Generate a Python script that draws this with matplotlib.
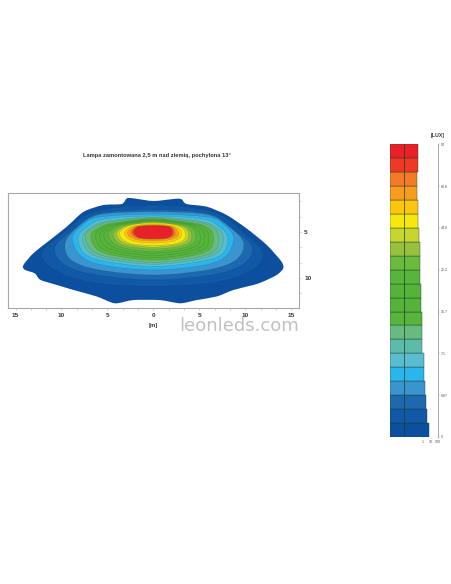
import matplotlib
matplotlib.use("Agg")
import matplotlib.pyplot as plt
import numpy as np
from matplotlib.path import Path
from matplotlib.patches import PathPatch

W, H = 452, 584
plt.rcParams['font.family'] = ['Liberation Sans', 'DejaVu Sans']

title = "Lampa zamontowana 2,5 m nad ziemią, pochylona 13°"
watermark = "leonleds.com"
x_tick_labels = ["15", "10", "5", "0", "5", "10", "15"]
x_tick_values = [-15, -10, -5, 0, 5, 10, 15]
y_tick_values = [5, 10]

# iso-lux contours, outermost first (metres)
outer_x = [-2.9, -2.2, 0, 2.5, 3.06, 3.6, 5.8, 7.95, 10.1, 12.3, 13.9, 14.1, 13.4, 11.9, 10.85, 8.7, 6.9, 4.7, 2.9,
           0.7, -2.2, -4.2, -6.2, -8.7, -10.5, -12.3, -12.9, -14, -14.15, -13.05, -11.25, -9.4, -7.6, -5.45, -3.46]
outer_y = [1.34, 1.34, 1.63, 1.38, 1.45, 1.96, 2.25, 3.15, 4.6, 6.4, 8.2, 8.95, 9.67, 10.4, 10.76, 11.3, 12.0, 12.4, 12.75,
           12.4, 12.4, 12.75, 12.0, 11.3, 10.76, 10.2, 9.5, 9.1, 8.6, 7.3, 5.87, 4.4, 2.8, 2.07, 1.96]
# each inner level, clockwise from the top
inner_x = [
    [0, 6.5, 9.7, 11.9, 10.6, 6.6, 0, -6.6, -10.6, -12.15, -9.7, -6.5],
    [0, 6.0, 8.8, 10.7, 9.9, 6.6, 0, -6.6, -9.9, -10.7, -8.8, -6.0],
    [0, 5.8, 8.3, 9.8, 9.0, 6.0, 0, -6.0, -9.0, -9.6, -8.3, -5.8],
    [0, 6.0, 7.9, 8.7, 7.9, 5.5, 0, -5.5, -7.9, -8.85, -7.9, -6.0],
    [0, 5.4, 7.2, 8.05, 7.5, 5.1, 0, -5.1, -7.5, -8.2, -7.2, -5.4],
    [0, 4.9, 6.7, 7.6, 7.05, 4.8, 0, -4.8, -7.05, -7.7, -6.7, -4.9],
    [0, 4.6, 6.3, 7.05, 6.7, 4.5, 0, -4.5, -6.7, -7.4, -6.3, -4.6],
    [0, 4.2, 5.8, 6.5, 6.15, 4.1, 0, -4.1, -6.15, -6.8, -5.8, -4.2],
    [0, 3.9, 5.35, 6.0, 5.7, 3.8, 0, -3.8, -5.7, -6.3, -5.35, -3.9],
    [0, 3.6, 5.0, 5.5, 5.3, 3.5, 0, -3.5, -5.3, -5.85, -5.0, -3.6],
    [0, 3.3, 4.5, 5.05, 4.85, 3.2, 0, -3.2, -4.85, -5.4, -4.5, -3.3],
    [0, 3.0, 4.1, 4.6, 4.4, 2.95, 0, -2.95, -4.4, -4.9, -4.1, -3.0],
    [0, 2.7, 3.7, 4.15, 3.95, 2.65, 0, -2.65, -3.95, -4.37, -3.7, -2.7],
    [0, 2.45, 3.4, 3.8, 3.6, 2.4, 0, -2.4, -3.6, -4.0, -3.4, -2.45],
    [0, 2.2, 3.1, 3.45, 3.3, 2.2, 0, -2.2, -3.3, -3.72, -3.1, -2.2],
    [0, 1.95, 2.7, 3.06, 2.85, 1.9, 0, -1.9, -2.85, -3.17, -2.7, -1.95],
    [0, 1.75, 2.4, 2.7, 2.55, 1.7, 0, -1.7, -2.55, -2.84, -2.4, -1.75],
    [0, 1.6, 2.15, 2.34, 2.25, 1.5, 0, -1.5, -2.25, -2.48, -2.15, -1.6],
    [0, 1.5, 2.0, 2.15, 2.05, 1.45, 0, -1.45, -2.05, -2.26, -2.0, -1.5],
    [0, 1.4, 1.85, 1.97, 1.85, 1.35, 0, -1.35, -1.85, -2.05, -1.85, -1.4],
]
inner_y = [
    [2.07, 2.8, 5.0, 7.3, 9.2, 10.5, 10.9, 10.5, 9.2, 7.3, 5.0, 2.8],
    [2.6, 3.0, 4.8, 6.6, 8.4, 9.6, 10.2, 9.6, 8.4, 6.6, 4.8, 3.0],
    [2.8, 3.1, 4.5, 6.2, 8.0, 9.1, 9.67, 9.1, 8.0, 6.2, 4.5, 3.1],
    [3.05, 3.4, 4.4, 5.7, 7.6, 8.6, 9.13, 8.6, 7.6, 5.7, 4.4, 3.4],
    [3.26, 3.6, 4.45, 5.6, 7.35, 8.2, 8.75, 8.2, 7.35, 5.6, 4.45, 3.6],
    [3.4, 3.8, 4.45, 5.5, 7.15, 8.0, 8.5, 8.0, 7.15, 5.5, 4.45, 3.8],
    [3.45, 3.9, 4.4, 5.4, 7.0, 7.8, 8.3, 7.8, 7.0, 5.4, 4.4, 3.9],
    [3.55, 4.0, 4.45, 5.35, 6.85, 7.6, 8.05, 7.6, 6.85, 5.35, 4.45, 4.0],
    [3.62, 4.05, 4.45, 5.3, 6.7, 7.4, 7.8, 7.4, 6.7, 5.3, 4.45, 4.05],
    [3.7, 4.1, 4.5, 5.3, 6.5, 7.2, 7.55, 7.2, 6.5, 5.3, 4.5, 4.1],
    [3.75, 4.1, 4.5, 5.25, 6.35, 7.0, 7.3, 7.0, 6.35, 5.25, 4.5, 4.1],
    [3.82, 4.15, 4.5, 5.2, 6.2, 6.8, 7.1, 6.8, 6.2, 5.2, 4.5, 4.15],
    [3.9, 4.2, 4.55, 5.2, 6.1, 6.6, 6.85, 6.6, 6.1, 5.2, 4.55, 4.2],
    [3.95, 4.25, 4.55, 5.15, 5.95, 6.4, 6.65, 6.4, 5.95, 5.15, 4.55, 4.25],
    [4.0, 4.2, 4.55, 5.1, 5.85, 6.3, 6.45, 6.3, 5.85, 5.1, 4.55, 4.2],
    [4.1, 4.3, 4.58, 5.05, 5.65, 6.05, 6.2, 6.05, 5.65, 5.05, 4.58, 4.3],
    [4.2, 4.35, 4.6, 5.05, 5.55, 5.85, 5.98, 5.85, 5.55, 5.05, 4.6, 4.35],
    [4.28, 4.38, 4.6, 5.0, 5.42, 5.72, 5.8, 5.72, 5.42, 5.0, 4.6, 4.38],
    [4.3, 4.38, 4.6, 5.0, 5.36, 5.65, 5.72, 5.65, 5.36, 5.0, 4.6, 4.38],
    [4.35, 4.42, 4.6, 5.0, 5.34, 5.64, 5.7, 5.64, 5.34, 5.0, 4.6, 4.42],
]
# legend rows, bottom to top
level_colors = ["#0c4f9e", "#1159a8", "#1e68b0", "#3a94d0", "#2ab5ec", "#5abcd0", "#5dbbaa", "#68ba80",
                "#58b43c", "#55b23a", "#55b23a", "#58b43c", "#6aba3c", "#97c13d", "#c6d52f", "#f6e80c",
                "#fcc50e", "#f99c1e", "#f47a26", "#ee3a24", "#e8202a"]
level_share = [6.3, 3.1, 2.29, 1.85, 1.36, 1.24, 0.81, 0.74, 0.67, 0.49, 0.49,
               0.45, 0.40, 0.40, 0.32, 0.24, 0.24, 0.17, 0.17, 0.24, 0.24]
lux_positions = [0, 3, 6, 9, 12, 15, 18, 21]
lux_labels = ["0", "0.87", "7.1", "16.7", "25.2", "44.9", "69.8", "94"]
share_ticks = [1, 10, 100]
share_labels = ["1", "10", "100"]
share_floor = 10 ** -4.4
share_divider = 0.0034


def closed_spline(xs, ys, k=1 / 6):
    p = np.column_stack([xs, ys])
    n = len(p)
    verts = [p[0]]
    codes = [Path.MOVETO]
    for i in range(n):
        p0, p1, p2, p3 = p[i - 1], p[i], p[(i + 1) % n], p[(i + 2) % n]
        verts += [p1 + (p2 - p0) * k, p2 - (p3 - p1) * k, p2]
        codes += [Path.CURVE4] * 3
    return Path(verts, codes)


def px_axes(fig, x0, y0, x1, y1):
    return fig.add_axes([x0 / W, 1 - y1 / H, (x1 - x0) / W, (y1 - y0) / H])


GREY = "#a8a8a8"
TXT = "#3a3a3a"
fig = plt.figure(figsize=(W / 100, H / 100), dpi=100, facecolor="white")

ax = px_axes(fig, 8.3, 193.3, 299.3, 308.3)
ax.set_xlim((8.3 - 153.5) / 9.2, (299.3 - 153.5) / 9.2)
ax.set_ylim(5 + (308.3 - 232) / 9.2, 5 + (193.3 - 232) / 9.2)
ax.add_patch(PathPatch(closed_spline(outer_x, outer_y, 1 / 8), fc=level_colors[0], ec="none"))
for xs, ys, c in zip(inner_x, inner_y, level_colors[1:]):
    ax.add_patch(PathPatch(closed_spline(xs, ys), fc=c, ec=(0.05, 0.22, 0.12, 0.4), lw=0.2))
for s in ax.spines.values():
    s.set_color(GREY)
    s.set_linewidth(0.8)
ax.yaxis.tick_right()
ax.set_xticks(x_tick_values, x_tick_labels)
ax.set_yticks(y_tick_values, [str(v) for v in y_tick_values])
ax.set_xticks(np.arange(-15, 15.1, 5 / 3), minor=True)
ax.set_yticks(np.arange(5 - 10 / 3, 13, 5 / 3), minor=True)
ax.tick_params(which="both", length=1.5, width=0.4, color=GREY, labelsize=4.6, labelcolor=TXT, pad=2)
for t in ax.get_xticklabels() + ax.get_yticklabels():
    t.set_fontweight("bold")
fig.text(157 / W, 1 - 155 / H, title, ha="center", va="center", fontsize=4.15, fontweight="bold", color="#333333")
fig.text(153.7 / W, 1 - 325.7 / H, "[m]", ha="center", va="center", fontsize=4.4, fontweight="bold", color=TXT)
fig.text(239.5 / W, 1 - 326 / H, watermark, ha="center", va="center", fontsize=13, color="#c0c0c0",
         family=["DejaVu Sans"])

lg = px_axes(fig, 390, 144.3, 438, 437)
lg.set_xscale("log")
lg.set_xlim(share_floor, 100)
lg.set_ylim(0, 21)
rows = np.arange(21)
lg.barh(rows + 0.5, np.array(level_share) - share_floor, left=share_floor, height=1,
        color=level_colors, edgecolor=(0.11, 0.23, 0.14, 0.8), linewidth=0.35)
lg.vlines(share_divider, 0, 21, color="#1c3a24", lw=0.5)
for side in ("left", "top", "bottom"):
    lg.spines[side].set_visible(False)
lg.spines["right"].set_color(GREY)
lg.spines["right"].set_linewidth(0.7)
lg.yaxis.tick_right()
lg.set_yticks(lux_positions, lux_labels)
lg.set_xticks(share_ticks, share_labels)
lg.minorticks_off()
lg.tick_params(length=1.2, width=0.3, color=GREY, labelsize=2.6, labelcolor="#555555", pad=1)
fig.text(437.5 / W, 1 - 135.5 / H, "[LUX]", ha="center", va="center", fontsize=3.8, fontweight="bold", color=TXT)

fig.savefig("out.png", dpi=100)
